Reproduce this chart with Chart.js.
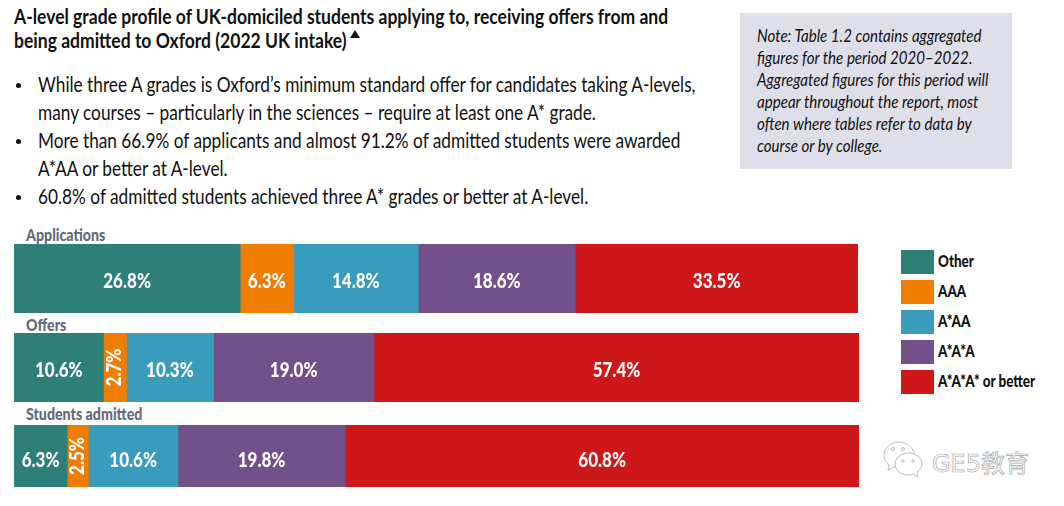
<!DOCTYPE html>
<html>
<head>
<meta charset="utf-8">
<script src="https://cdn.jsdelivr.net/npm/chart.js@4"></script>
<style>
  html, body { margin: 0; background: #fff; overflow: hidden; }
  body { width: 1064px; height: 506px; position: relative; font-family: Lato, sans-serif; }
  .line { position: absolute; white-space: nowrap; line-height: 1; transform-origin: left top; }
  .title { left: 14px; font-size: 20px; font-weight: bold; color: #111; transform: scaleX(0.876); }
  .body { left: 38px; font-size: 21px; color: #111; transform: scaleX(0.821); }
  .dot { position: absolute; left: 16px; width: 5px; height: 5px; border-radius: 50%; background: #111; }
  #note { position: absolute; left: 740px; top: 13px; width: 272px; height: 156px; background: #dfdfea; }
  .note { left: 757px; font-size: 16.5px; font-style: italic; color: #111; transform: scaleX(0.915); }
  .rowlabel { left: 26px; font-size: 17px; font-weight: 900; color: #5f6b7a; transform: scaleX(0.835); }
  .row { position: absolute; left: 14px; }
  .swatch { position: absolute; left: 901px; width: 33px; height: 24px; }
  .legend { left: 938px; font-size: 17px; font-weight: 900; color: #111; transform: scaleX(0.79); }
  #tri { position: absolute; left: 350px; top: 30px; width: 0; height: 0; border-left: 5px solid transparent; border-right: 5px solid transparent; border-bottom: 8px solid #111; }
  #mark { position: absolute; left: 932px; top: 444px; font: 24px "DejaVu Sans", "Noto Sans CJK SC"; color: #fff; -webkit-text-stroke: 0.7px #a8a8a8; white-space: nowrap; }
</style>
</head>
<body>
<div id="note"></div>
<div id="tri"></div>
<svg style="position:absolute;left:882px;top:440px" width="44" height="38" fill="#fff" stroke="#bdbdbd" stroke-width="1">
  <path d="M17 2C9 2 2 8 2 15c0 4 2 7 5 10l-1 5 6-3c2 1 3 1 5 1 8 0 15-6 15-13S25 2 17 2z"/>
  <path d="M26 13c-7 0-13 5-13 11s6 11 13 11c2 0 3 0 5-1l5 3-1-5c3-2 5-5 5-8 0-6-6-11-14-11z"/>
  <circle cx="11" cy="9" r="1.5"/><circle cx="21" cy="9" r="1.5"/>
  <circle cx="21" cy="21" r="1.2"/><circle cx="31" cy="21" r="1.2"/>
</svg>
<div id="mark">GE5教育</div>

<script>
const rowNames = ['Applications', 'Offers', 'Students admitted'];
const grades = ['Other', 'AAA', 'A*AA', 'A*A*A', 'A*A*A* or better'];
const colors = ['#2e7f78', '#f07d00', '#3a9cbd', '#72508a', '#ce1719'];

const otherValues = [26.8, 10.6, 6.3];
const aaaValues = [6.3, 2.7, 2.5];
const aStarAAValues = [14.8, 10.3, 10.6];
const aStarAStarAValues = [18.6, 19.0, 19.8];
const betterValues = [33.5, 57.4, 60.8];
const gradeValues = [otherValues, aaaValues, aStarAAValues, aStarAStarAValues, betterValues];

const titleLines = [
  'A-level grade profile of UK-domiciled students applying to, receiving offers from and',
  'being admitted to Oxford (2022 UK intake)'
];
const bodyLines = [
  'While three A grades is Oxford’s minimum standard offer for candidates taking A-levels,',
  'many courses – particularly in the sciences – require at least one A* grade.',
  'More than 66.9% of applicants and almost 91.2% of admitted students were awarded',
  'A*AA or better at A-level.',
  '60.8% of admitted students achieved three A* grades or better at A-level.'
];
const noteLines = [
  'Note: Table 1.2 contains aggregated',
  'figures for the period 2020–2022.',
  'Aggregated figures for this period will',
  'appear throughout the report, most',
  'often where tables refer to data by',
  'course or by college.'
];

function addText(text, cls, top) {
  const el = document.createElement('div');
  el.className = 'line ' + cls;
  el.style.top = top + 'px';
  el.textContent = text;
  document.body.appendChild(el);
  return el;
}

titleLines.forEach((t, i) => addText(t, 'title', 6 + i * 24));
bodyLines.forEach((t, i) => addText(t, 'body', 73 + i * 28));
[85, 141, 197].forEach(y => {
  const d = document.createElement('div');
  d.className = 'dot';
  d.style.top = (y - 2) + 'px';
  document.body.appendChild(d);
});
noteLines.forEach((t, i) => addText(t, 'note', 28 + i * 22));

// legend
grades.forEach((g, i) => {
  const s = document.createElement('div');
  s.className = 'swatch';
  s.style.top = (250 + i * 30) + 'px';
  s.style.background = colors[i];
  document.body.appendChild(s);
  addText(g, 'legend', 252 + i * 30);
});

// white value labels, the narrow segments get them rotated
const valueLabels = {
  id: 'valueLabels',
  afterDatasetsDraw(chart, args, opts) {
    const c = chart.ctx;
    chart.data.datasets.forEach((ds, d) => {
      const bar = chart.getDatasetMeta(d).data[0];
      const w = Math.abs(bar.width);
      c.save();
      c.fillStyle = '#fff';
      c.font = '900 20px Lato, sans-serif';
      c.textAlign = 'center';
      c.textBaseline = 'middle';
      c.translate(bar.x - w / 2, bar.y + (w < 30 ? 0 : opts.shift));
      if (w < 30) c.rotate(-Math.PI / 2);
      c.scale(0.85, 1);
      c.fillText(ds.data[0].toFixed(1) + '%', 0, 0);
      c.restore();
    });
  }
};

const rowBoxes = [
  { top: 244, width: 844, height: 69, label: 226, shift: 3 },
  { top: 333, width: 845, height: 69, label: 316, shift: 3 },
  { top: 425, width: 845, height: 62, label: 405, shift: 5 }
];

function buildRow(i) {
  const box = rowBoxes[i];
  addText(rowNames[i], 'rowlabel', box.label);
  const cv = document.createElement('canvas');
  const wrap = document.createElement('div');
  wrap.className = 'row';
  wrap.style.cssText = `top:${box.top}px;width:${box.width}px;height:${box.height}px`;
  wrap.appendChild(cv);
  document.body.appendChild(wrap);

  new Chart(cv, {
    type: 'bar',
    data: {
      labels: [rowNames[i]],
      datasets: grades.map((g, k) => ({
        label: g,
        data: [gradeValues[k][i]],
        backgroundColor: colors[k],
        borderWidth: 0,
        barPercentage: 1,
        categoryPercentage: 1
      }))
    },
    options: {
      indexAxis: 'y',
      responsive: true,
      maintainAspectRatio: false,
      animation: false,
      layout: { padding: 0 },
      plugins: {
        legend: { display: false },
        tooltip: { enabled: false },
        valueLabels: { shift: box.shift }
      },
      scales: {
        x: { stacked: true, min: 0, max: 100, display: false },
        y: { stacked: true, display: false }
      }
    },
    plugins: [valueLabels]
  });
}

rowNames.forEach((_, i) => buildRow(i));
</script>
</body>
</html>
